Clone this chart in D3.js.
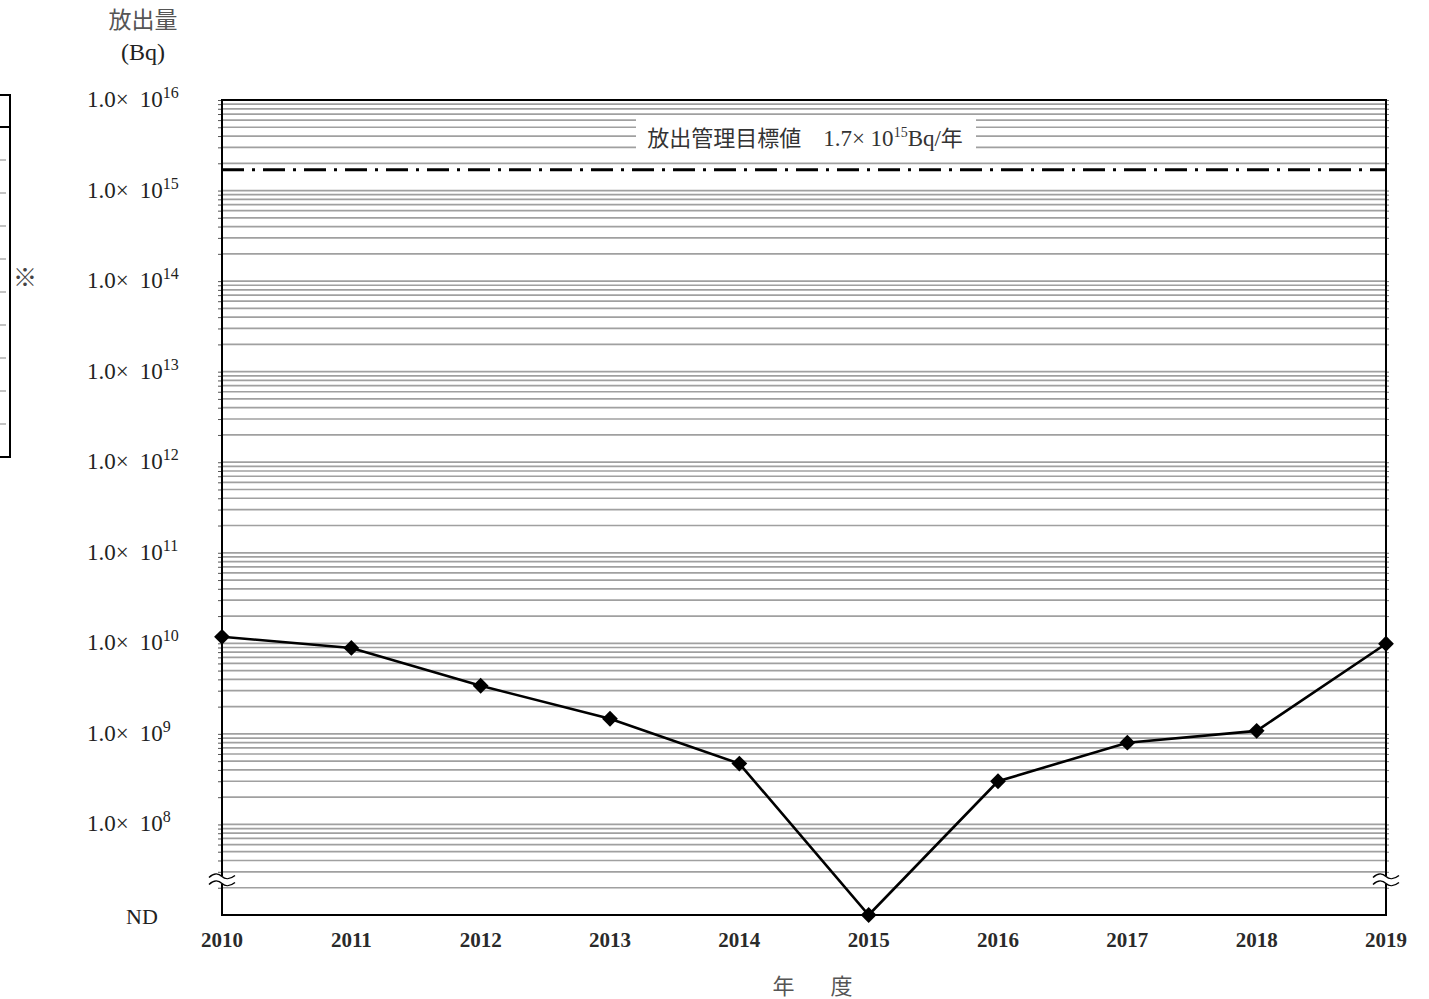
<!DOCTYPE html>
<html><head><meta charset="utf-8">
<script src="https://cdn.jsdelivr.net/npm/d3@7"></script>
<style>
html,body{margin:0;padding:0;background:#fff;}
svg{display:block;}
.serif{font-family:"Liberation Serif","DejaVu Serif",serif;}
.cjk{font-family:"Noto Sans CJK JP","Noto Sans CJK SC",sans-serif;}
</style></head>
<body>
<svg id="chart" width="1429" height="999"></svg>
<script>
// ---- data ----
const years = [2010, 2011, 2012, 2013, 2014, 2015, 2016, 2017, 2018, 2019];
const releaseBq = [1.18e10, 8.9e9, 3.4e9, 1.47e9, 4.7e8, null, 3.0e8, 8.0e8, 1.08e9, 9.9e9]; // null = ND
const yTickExponents = [16, 15, 14, 13, 12, 11, 10, 9, 8];
const targetValue = 1.7e15;
const targetSup = "15";
const yTitle = ["放出量", "(Bq)"];
const xTitle = "年　度";
const ndLabel = "ND";

(function () {
// ---- layout ----
const svg = d3.select("#chart");
const pL = 222, pR = 1386, pT = 100, pB = 915;
const x = d3.scaleLinear().domain([years[0], years[years.length - 1]]).range([pL, pR]);
const y = d3.scaleLog().domain([1e7, 1e16]).range([pB, pT]);

// minor/major grid values
const gridVals = [];
for (let d = 7; d < 16; d++) for (let k = 1; k <= 9; k++) gridVals.push(k * Math.pow(10, d));
gridVals.push(1e16);

svg.append("g").selectAll("line").data(gridVals.filter(v => v > 1e7 && v < 1e16)).join("line")
  .attr("x1", pL).attr("x2", pR)
  .attr("y1", d => y(d)).attr("y2", d => y(d))
  .attr("stroke", "#a0a0a0").attr("stroke-width", 1.7);

// target label with white background
const tg = svg.append("g");
tg.append("rect").attr("x", 636).attr("y", 117).attr("width", 340).attr("height", 37).attr("fill", "#fff");
const tt = tg.append("text").attr("x", 805).attr("y", 146).attr("text-anchor", "middle")
  .attr("font-size", 23).attr("fill", "#333");
tt.append("tspan").attr("class", "cjk").attr("font-size", 22).text("放出管理目標値　");
tt.append("tspan").attr("class", "serif").text("1.7× 10");
tt.append("tspan").attr("class", "serif").attr("font-size", 14).attr("dy", -9).text(targetSup);
tt.append("tspan").attr("class", "serif").attr("dy", 9).text("Bq/");
tt.append("tspan").attr("class", "cjk").attr("font-size", 22).text("年");

// target dash-dot line
svg.append("line").attr("x1", pL).attr("x2", pR)
  .attr("y1", y(targetValue)).attr("y2", y(targetValue))
  .attr("stroke", "#000").attr("stroke-width", 3).attr("stroke-dasharray", "22,8,3,8");

// axes ticks (minor)
svg.append("g").attr("transform", `translate(${pL},0)`)
  .call(d3.axisLeft(y).tickValues(gridVals.filter(v => v > 1e7)).tickSize(4).tickFormat(""))
  .call(g => g.select(".domain").remove())
  .selectAll("line").attr("stroke", "#555");
svg.append("g").attr("transform", `translate(${pR},0)`)
  .call(d3.axisRight(y).tickValues(gridVals.filter(v => v > 1e7)).tickSize(3).tickFormat(""))
  .call(g => g.select(".domain").remove())
  .selectAll("line").attr("stroke", "#777");

// frame
svg.append("rect").attr("x", pL).attr("y", pT).attr("width", pR - pL).attr("height", pB - pT)
  .attr("fill", "none").attr("stroke", "#000").attr("stroke-width", 2);

// break symbols
const breakY = 880;
[pL, pR].forEach(bx => {
  const g = svg.append("g").attr("transform", `translate(${bx},${breakY})`);
  g.append("rect").attr("x", -3).attr("y", -4).attr("width", 6).attr("height", 8).attr("fill", "#fff");
  [-3.5, 3.5].forEach(dy => {
    g.append("path").attr("d", `M-13,${dy + 1} C-8,${dy - 4} -3,${dy - 3} 0,${dy} S8,${dy + 3} 13,${dy - 1}`)
      .attr("fill", "none").attr("stroke", "#000").attr("stroke-width", 1.4);
  });
});

// y tick labels
const yl = svg.append("g").attr("class", "serif").attr("fill", "#222");
yTickExponents.forEach(e => {
  const t = yl.append("text").attr("x", 87).attr("y", y(Math.pow(10, e)) + 7).attr("font-size", 23);
  t.append("tspan").text("1.0×");
  t.append("tspan").attr("dx", 11).text("10");
  t.append("tspan").attr("font-size", 16).attr("dy", -9).text(String(e));
});
yl.append("text").attr("x", 142).attr("y", pB + 9).attr("text-anchor", "middle").attr("font-size", 22).text(ndLabel);

// x tick labels
svg.append("g").attr("class", "serif").selectAll("text").data(years).join("text")
  .attr("x", d => x(d)).attr("y", 947).attr("text-anchor", "middle")
  .attr("font-size", 21).attr("font-weight", "bold").attr("fill", "#2a2a2a").text(d => d);

// titles
svg.append("text").attr("class", "cjk").attr("x", 143).attr("y", 28).attr("text-anchor", "middle")
  .attr("font-size", 23).attr("fill", "#555").text(yTitle[0]);
svg.append("text").attr("class", "serif").attr("x", 143).attr("y", 60).attr("text-anchor", "middle")
  .attr("font-size", 24).attr("fill", "#222").text(yTitle[1]);
svg.append("text").attr("class", "cjk").attr("x", 816).attr("y", 994).attr("text-anchor", "middle")
  .attr("font-size", 22).attr("letter-spacing", 7).attr("fill", "#555").text(xTitle);

// data line
const pts = years.map((yr, i) => ({ yr, v: releaseBq[i] }));
const py = d => d.v == null ? pB : y(d.v);
svg.append("path").datum(pts)
  .attr("d", d3.line().x(d => x(d.yr)).y(py))
  .attr("fill", "none").attr("stroke", "#000").attr("stroke-width", 2.6);
svg.append("g").selectAll("path").data(pts).join("path")
  .attr("d", d3.symbol(d3.symbolSquare, 125)())
  .attr("transform", d => `translate(${x(d.yr)},${py(d)}) rotate(45)`)
  .attr("fill", "#000");

// partial table at left edge
const tb = svg.append("g");
tb.append("rect").attr("x", -10).attr("y", 95).attr("width", 20).attr("height", 362)
  .attr("fill", "none").attr("stroke", "#000").attr("stroke-width", 2);
tb.append("line").attr("x1", 0).attr("x2", 10).attr("y1", 127).attr("y2", 127).attr("stroke", "#000").attr("stroke-width", 2);
d3.range(9).forEach(i => {
  tb.append("line").attr("x1", 0).attr("x2", 6).attr("y1", 160 + i * 33).attr("y2", 160 + i * 33)
    .attr("stroke", "#999").attr("stroke-width", 1.2);
});
svg.append("text").attr("class", "cjk").attr("x", 25).attr("y", 286).attr("text-anchor", "middle")
  .attr("font-size", 24).attr("fill", "#444").text("※");
})();
</script>
</body></html>
